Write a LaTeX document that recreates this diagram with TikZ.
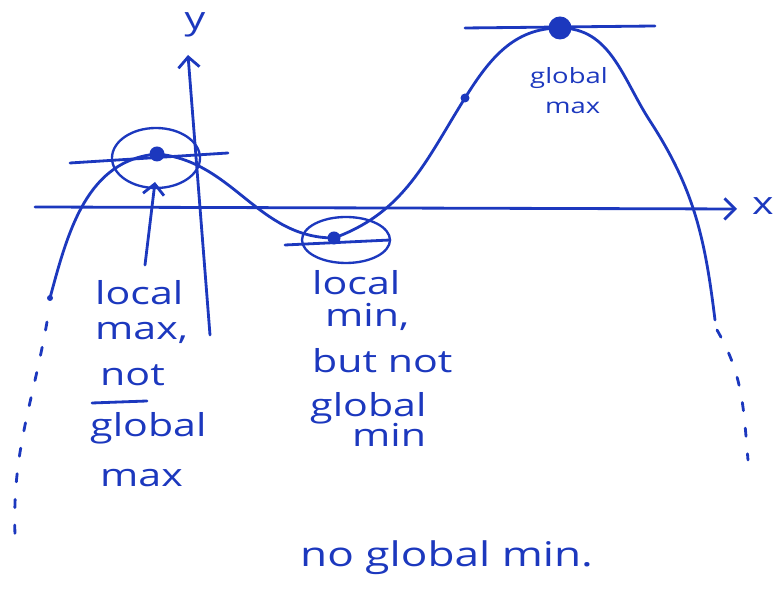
\documentclass[tikz,border=0pt]{standalone}
\usepackage{fontspec}
\usepackage{tikz}
\usetikzlibrary{positioning,arrows.meta}
\newfontfamily\handfont[FakeStretch=1.3]{Open Sans}
\definecolor{InkBlue}{RGB}{28,56,190}
\tikzset{
  pen/.style={draw=InkBlue,line width=2.4pt,line cap=round,line join=round},
  ring/.style={draw=InkBlue,line width=2pt},
  trail/.style={draw=InkBlue,line width=2.4pt,line cap=round,dash pattern=on 7pt off 15pt},
  barb/.style={-{Straight Barb[length=9pt,width=18pt]}},
}
\tikzset{blob/.style={circle,fill=InkBlue,inner sep=0pt}, hand/.style={text=InkBlue,inner sep=0pt,anchor=base west,font=\handfont\fontsize{27}{30}\selectfont}, small/.style={hand,font=\handfont\fontsize{18}{20}\selectfont}}

\begin{document}
\begin{tikzpicture}[x=0.03cm,y=0.03cm]
\useasboundingbox (0,0) rectangle (779,596);
\coordinate (xl) at (35,389);
\coordinate (xr) at (737,387);
\coordinate (yb) at (210,261);
\coordinate (yt) at (188,541);
\coordinate (start) at (50,298);
\coordinate (lmax) at (157,442);
\coordinate (lmin) at (334,358);
\coordinate (infl) at (465,498);
\coordinate (gmax) at (560,568);
\coordinate (fall) at (650,475);
\coordinate (end) at (715,276);
% axes
\draw[pen,barb] (xl) -- (xr);
\draw[pen,barb] (yb) -- (yt);
% the function
\draw[pen] (start) to[out=75,in=185] (lmax) to[out=-5,in=180] (lmin)
  to[out=20,in=238] (infl) to[out=58,in=180] (gmax) to[out=0,in=123] (fall)
  to[out=-57,in=97] (end);
% it goes on
\coordinate (ltail) at (47,274);
\coordinate (lfoot) at (15,61);
\coordinate (rtail) at (717,266);
\coordinate (rfoot) at (748,136);
\draw[trail] (ltail) to[out=-100,in=92] (lfoot);
\draw[trail] (rtail) to[out=-60,in=95] (rfoot);
% tangents
\coordinate (t1a) at (70,433);
\coordinate (t1b) at (228,443);
\coordinate (t2a) at (285,351);
\coordinate (t2b) at (390,356);
\coordinate (t3a) at (465,568);
\coordinate (t3b) at (655,570);
\draw[pen] (t1a) -- (t1b);
\draw[pen] (t2a) -- (t2b);
\draw[pen] (t3a) -- (t3b);
% rings
\coordinate (lmaxring) at (156,438);
\coordinate (lminring) at (346,356);
\draw[ring] (lmaxring) ellipse [x radius=44,y radius=30];
\draw[ring] (lminring) ellipse [x radius=44,y radius=23];
% points
\node[blob,minimum size=0.18cm] (p0) at (start) {};
\node[blob,minimum size=0.45cm] (p1) at (lmax) {};
\node[blob,minimum size=0.39cm] (p2) at (lmin) {};
\node[blob,minimum size=0.27cm] (p3) at (infl) {};
\node[blob,minimum size=0.69cm] (p4) at (gmax) {};
% pointer
\coordinate (ptr) at (145,331);
\coordinate (ptrhead) at (155,414);
\draw[pen,barb] (ptr) -- (ptrhead);
% labels
\node[hand] (lm1) at (95,291) {local};
\node[hand] (lm2) at (95,256) {max,};
\node[hand] (lm3) at (100,210) {not};
\node[hand] (lm4) at (90,159) {global};
\node[hand] (lm5) at (100,109) {max};
\coordinate (ul1) at (92,193);
\coordinate (ul2) at (147,195);
\draw[pen] (ul1) -- (ul2);
\node[hand] (mn1) at (312,301) {local};
\node[hand] (mn2) at (325,269) {min,};
\node[hand] (mn3) at (312,223) {but not};
\node[hand] (mn4) at (310,179) {global};
\node[hand] (mn5) at (352,149) {min};
\node[small] (gm1) at (530,512) {global};
\node[small] (gm2) at (545,482) {max};
\node[hand,font=\handfont\fontsize{29}{32}\selectfont] (note) at (300,29) {no global min.};
\node[hand] (xlab) at (752,381) {x};
\node[hand,anchor=center] (ylab) at (195,571) {y};
\end{tikzpicture}
\end{document}
